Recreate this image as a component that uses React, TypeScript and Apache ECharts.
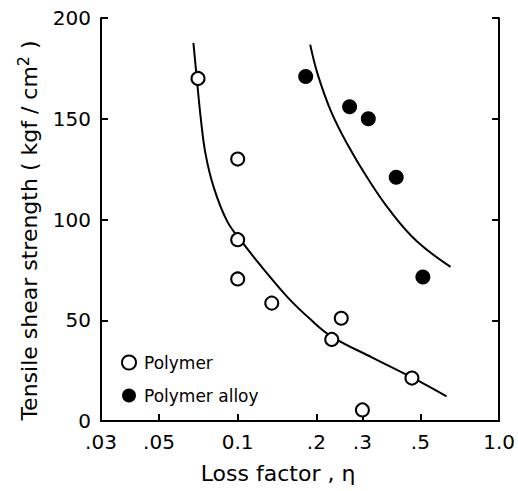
import React, { useEffect, useRef } from "react";
import * as echarts from "echarts";

// ---- data ----
const xTickValues = [0.03, 0.05, 0.1, 0.2, 0.3, 0.5, 1.0];
const xTickLabels = [".03", ".05", "0.1", ".2", ".3", ".5", "1.0"];

const polymerEta = [0.0705, 0.1, 0.1, 0.1, 0.135, 0.249, 0.229, 0.464, 0.3];
const polymerStrength = [170, 130, 90, 70.5, 58.5, 51, 40.5, 21.3, 5.5];

const alloyEta = [0.182, 0.268, 0.316, 0.404, 0.511];
const alloyStrength = [171, 156, 150, 121, 71.5];

const polymerFitEta = [0.0677, 0.0697, 0.0722, 0.0754, 0.0811, 0.0911, 0.1035, 0.1265, 0.156, 0.1889, 0.2289, 0.3273, 0.4639, 0.6295];
const polymerFitStrength = [187.7, 170.6, 150.5, 132.3, 115.7, 99.2, 89.1, 74.9, 61.1, 50.7, 41.9, 31.5, 21.6, 12.2];

const alloyFitEta = [0.1894, 0.2025, 0.2275, 0.2632, 0.3133, 0.384, 0.4846, 0.652];
const alloyFitStrength = [186.8, 171.9, 153.7, 137.2, 120.7, 104.1, 89.2, 76.5];

const FONT = "DejaVu Sans";

function pairs(xs: number[], ys: number[]) {
  return xs.map((x, i) => [x, ys[i]]);
}

export default function App() {
  const ref = useRef<HTMLDivElement>(null);
  useEffect(() => {
    if (!ref.current) return;
    const chart = echarts.init(ref.current, undefined, { renderer: "svg" });
    chart.setOption({
      animation: false,
      backgroundColor: "#fff",
      textStyle: { fontFamily: FONT, color: "#000" },
      grid: { left: 101, right: 15, top: 18, bottom: 70 },
      legend: {
        data: ["Polymer", "Polymer alloy"],
        orient: "vertical",
        left: 116,
        top: 349,
        itemWidth: 14,
        itemHeight: 14,
        itemGap: 16,
        icon: "circle",
        textStyle: { fontFamily: FONT, fontSize: 17, color: "#000", padding: [0, 0, 0, 3] },
      },
      xAxis: [
        {
          type: "log",
          logBase: 10,
          min: 0.03,
          max: 1.0,
          position: "bottom",
          name: "Loss factor , η",
          nameLocation: "middle",
          nameGap: 41,
          nameTextStyle: { fontFamily: FONT, fontSize: 22, color: "#000", padding: [0, 44, 0, 0] },
          axisLine: { show: true, lineStyle: { color: "#000", width: 2 } },
          axisTick: { show: true, inside: true, length: 7, lineStyle: { color: "#000", width: 2 }, customValues: xTickValues },
          axisLabel: {
            show: true,
            margin: 11,
            fontFamily: FONT,
            fontSize: 20,
            color: "#000",
            customValues: xTickValues,
            hideOverlap: false,
            showMinLabel: true,
            showMaxLabel: true,
            formatter: (v: number) => {
              const k = xTickValues.findIndex((t) => Math.abs(t - v) < 1e-9);
              return k >= 0 ? xTickLabels[k] : "";
            },
          },
          splitLine: { show: false },
          minorTick: { show: false },
        },
        {
          type: "log",
          logBase: 10,
          min: 0.03,
          max: 1.0,
          position: "top",
          axisLine: { show: true, lineStyle: { color: "#000", width: 2 } },
          axisTick: { show: false },
          axisLabel: { show: false },
          splitLine: { show: false },
        },
      ],
      yAxis: [
        {
          type: "value",
          min: 0,
          max: 200,
          interval: 50,
          position: "left",
          name: "{a|Tensile shear strength ( kgf / cm}{s|2}{a| )}",
          nameLocation: "middle",
          nameGap: 58,
          nameTextStyle: {
            padding: [0, 22, 0, 0],
            rich: {
              a: { fontFamily: FONT, fontSize: 22, color: "#000", lineHeight: 28 },
              s: { fontFamily: FONT, fontSize: 16, color: "#000", verticalAlign: "top", lineHeight: 28 },
            },
          },
          axisLine: { show: true, lineStyle: { color: "#000", width: 2 } },
          axisTick: { show: true, inside: true, length: 7, lineStyle: { color: "#000", width: 2 } },
          axisLabel: { margin: 10, fontFamily: FONT, fontSize: 20, color: "#000" },
          splitLine: { show: false },
        },
        {
          type: "value",
          min: 0,
          max: 200,
          interval: 50,
          position: "right",
          axisLine: { show: true, lineStyle: { color: "#000", width: 2 } },
          axisTick: { show: true, inside: true, length: 7, lineStyle: { color: "#000", width: 2 } },
          axisLabel: { show: false },
          splitLine: { show: false },
        },
      ],
      series: [
        {
          name: "Polymer fit",
          type: "line",
          data: pairs(polymerFitEta, polymerFitStrength),
          smooth: 0.4,
          showSymbol: false,
          lineStyle: { color: "#000", width: 2 },
          z: 1,
        },
        {
          name: "Polymer alloy fit",
          type: "line",
          data: pairs(alloyFitEta, alloyFitStrength),
          smooth: 0.4,
          showSymbol: false,
          lineStyle: { color: "#000", width: 2 },
          z: 1,
        },
        {
          name: "Polymer",
          type: "scatter",
          data: pairs(polymerEta, polymerStrength),
          symbol: "circle",
          symbolSize: 13,
          itemStyle: { color: "#fff", borderColor: "#000", borderWidth: 2, opacity: 1 },
          z: 3,
        },
        {
          name: "Polymer alloy",
          type: "scatter",
          data: pairs(alloyEta, alloyStrength),
          symbol: "circle",
          symbolSize: 15,
          itemStyle: { color: "#000", opacity: 1 },
          z: 3,
        },
      ],
    });
    return () => chart.dispose();
  }, []);
  return (
    <div
      ref={ref}
      style={{ position: "fixed", left: 0, top: 0, width: 518, height: 491, background: "#fff" }}
    />
  );
}
